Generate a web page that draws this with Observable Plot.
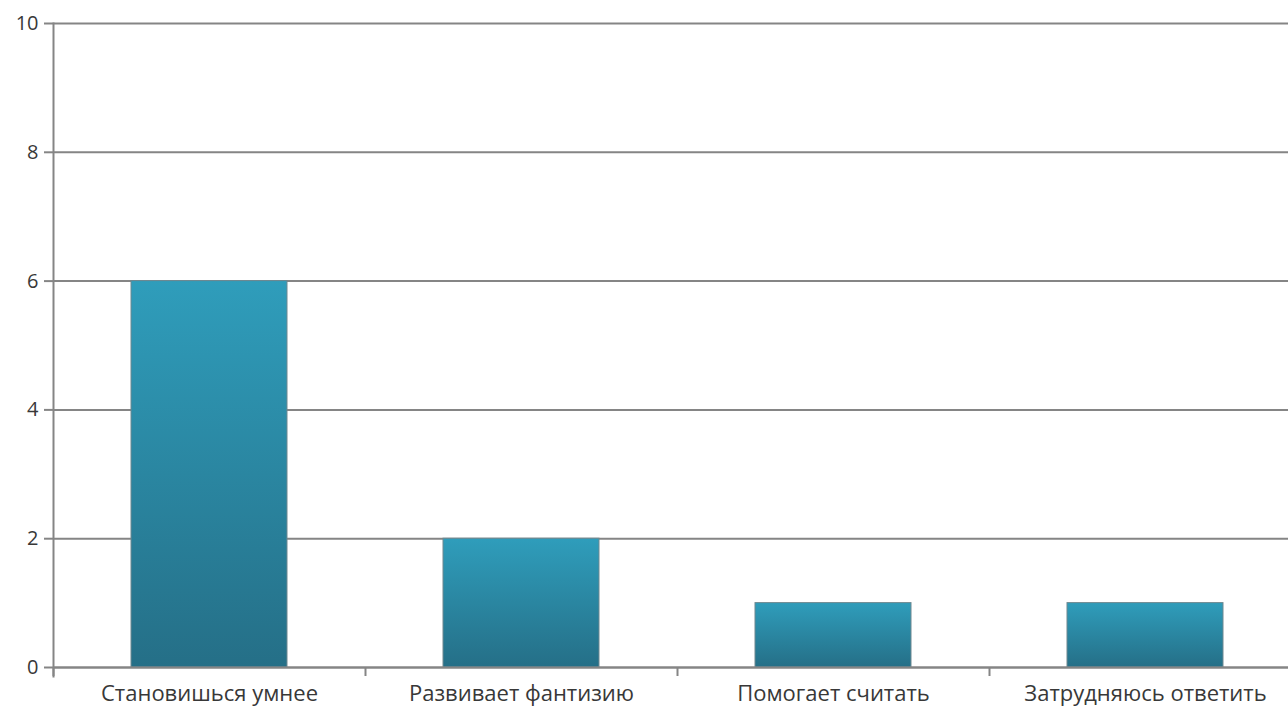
<!DOCTYPE html>
<html><head><meta charset="utf-8">
<script src="https://cdn.jsdelivr.net/npm/d3@7"></script>
<script src="https://cdn.jsdelivr.net/npm/@observablehq/plot@0.6"></script>
<style>
html,body{margin:0;padding:0;overflow:hidden;background:#fff;}
</style></head>
<body><div id="chart"></div>
<script>
const categories = ["Становишься умнее", "Развивает фантизию", "Помогает считать", "Затрудняюсь ответить"];
const values = [6, 2, 1, 1];
const yTicks = [0, 2, 4, 6, 8, 10];

const data = categories.map((c, i) => ({category: c, value: values[i]}));

const W = 1301, H = 711, ML = 53, MR = 0;
const step = (W - ML - MR) / categories.length;

const plot = Plot.plot({
  width: W, height: H,
  marginLeft: ML, marginRight: MR, marginTop: 23, marginBottom: 44,
  style: {fontFamily: "'Open Sans', sans-serif", fontSize: "22px", color: "#383838", background: "#fff", maxWidth: "none", overflow: "visible"},
  x: {domain: categories, padding: 0, label: null},
  y: {domain: [0, 10], label: null},
  marks: [
    Plot.gridY(yTicks, {stroke: "#858585", strokeOpacity: 1, strokeWidth: 2}),
    Plot.barY(data, {x: "category", y: "value", fill: "url(#barGrad)", stroke: "#6f8890", strokeWidth: 1, insetLeft: step/4, insetRight: step/4}),
    Plot.ruleY([0], {stroke: "#858585", strokeWidth: 2}),
    Plot.frame({anchor: "left", stroke: "#858585", strokeWidth: 2, insetBottom: -9}),
    Plot.axisY(yTicks, {tickSize: 9, tickPadding: 6, tickFormat: "d", stroke: "#858585", strokeWidth: 2, fill: "#383838", fontSize: 20}),
    Plot.axisX({tickSize: 9, text: null, dx: -step/2, stroke: "#858585", strokeWidth: 2}),
    Plot.axisX({tickSize: 0, tickPadding: 18, fill: "#383838", fontSize: 22})
  ]
});

const svg = d3.select(plot);
const defs = svg.insert("defs", ":first-child");
const g = defs.append("linearGradient").attr("id", "barGrad").attr("x1", 0).attr("y1", 0).attr("x2", 0).attr("y2", 1);
g.append("stop").attr("offset", "0%").attr("stop-color", "#2f9dbb");
g.append("stop").attr("offset", "100%").attr("stop-color", "#256f87");

document.getElementById("chart").appendChild(plot);
</script>
</body></html>
